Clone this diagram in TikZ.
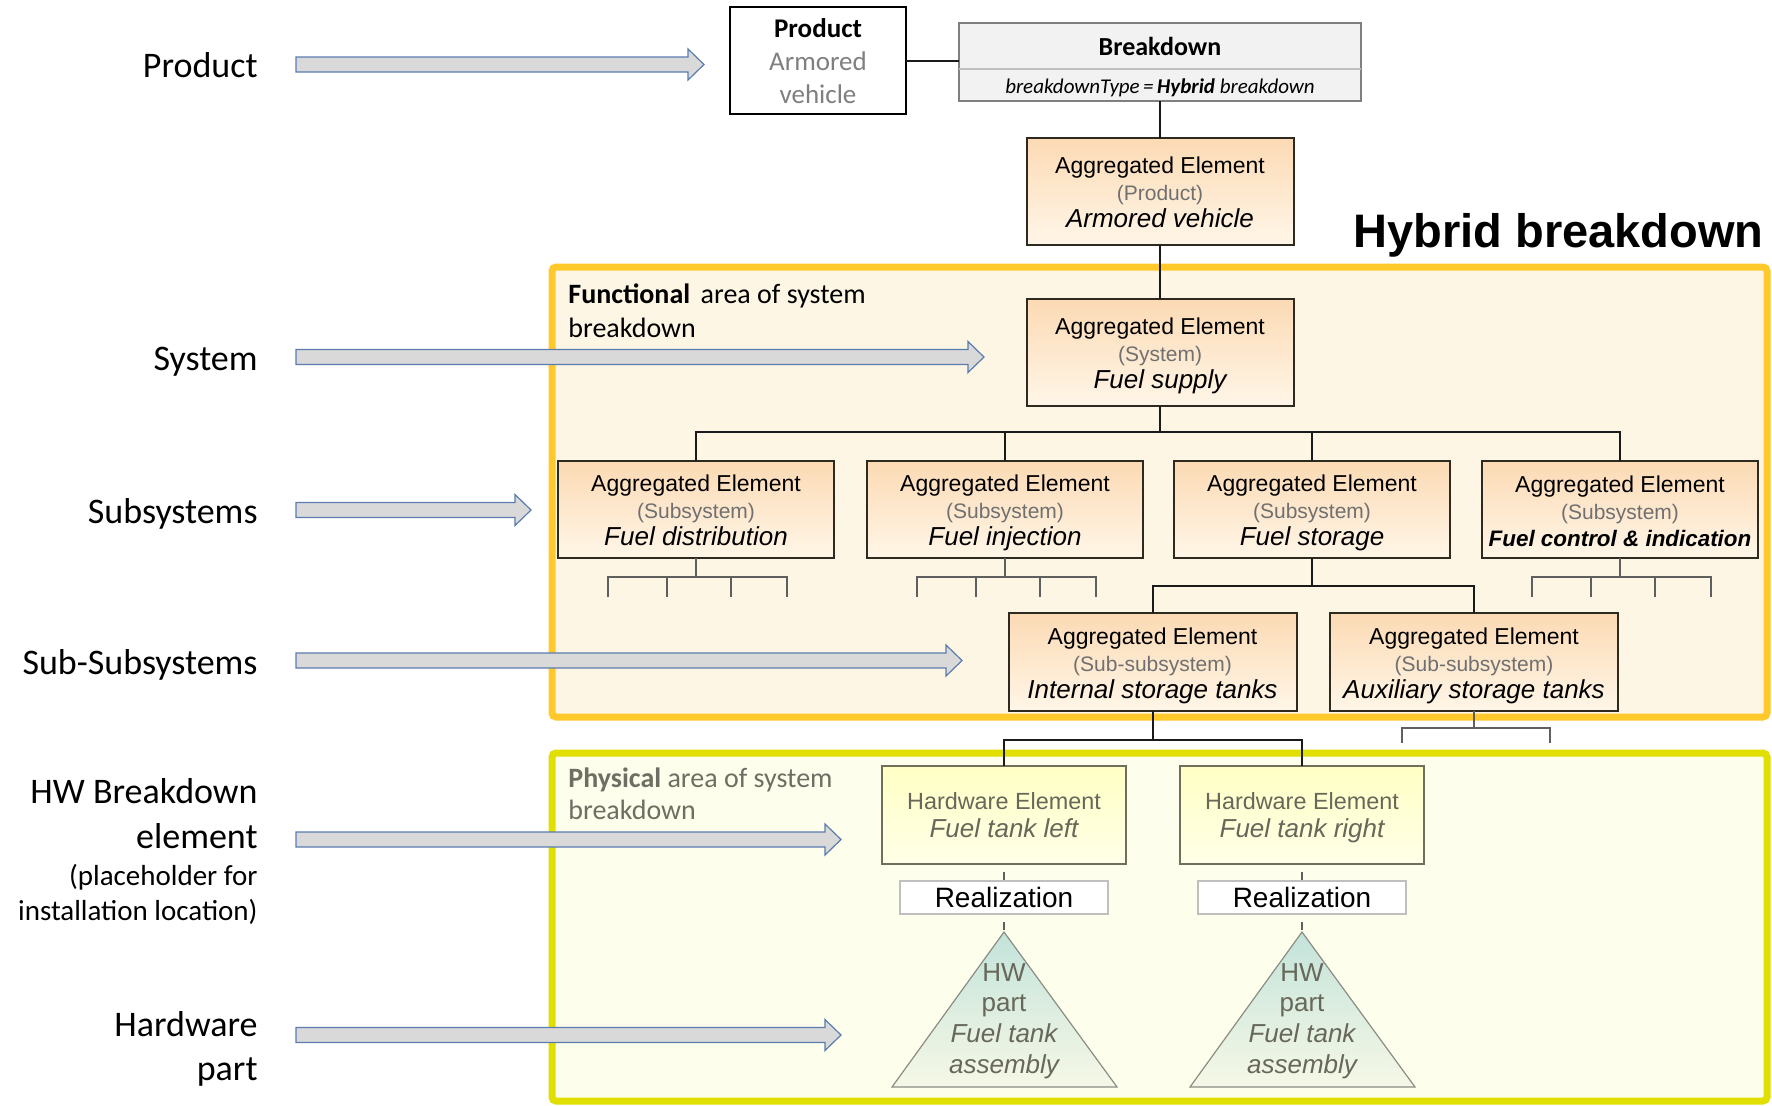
\documentclass[tikz,border=0pt]{standalone}
\usepackage{fontspec}
\setmainfont{Liberation Sans}
\newfontfamily\calib{Carlito}
\usetikzlibrary{calc}
\definecolor{arrfill}{HTML}{D9D9D9}
\definecolor{arrdraw}{HTML}{5B7CB0}
\definecolor{orframe}{HTML}{FFC92B}
\definecolor{orfill}{HTML}{FEF6E4}
\definecolor{yeframe}{HTML}{E1DF00}
\definecolor{yefill}{HTML}{FEFEEC}
\definecolor{aggtop}{HTML}{FCDAB4}
\definecolor{aggbot}{HTML}{FFF6E8}
\definecolor{aggdraw}{HTML}{2E2A20}
\definecolor{typegray}{HTML}{707070}
\definecolor{hwtop}{HTML}{FFFFC4}
\definecolor{hwbot}{HTML}{FFFFE8}
\definecolor{hwdraw}{HTML}{6F6F5C}
\definecolor{hwtext}{HTML}{67675A}
\definecolor{tritop}{HTML}{C3E3DA}
\definecolor{tribot}{HTML}{F6F8E6}
\definecolor{tridraw}{HTML}{8C8C84}
\definecolor{realdraw}{HTML}{BFBFBF}
\definecolor{prodgray}{HTML}{7F7F7F}
\definecolor{bdfill}{HTML}{F2F2F2}
\definecolor{bddraw}{HTML}{7F7F7F}
\definecolor{stubc}{HTML}{5F5F5F}
\definecolor{physgray}{HTML}{6E6E62}
\definecolor{conncol}{HTML}{1A1A1A}

\newcommand\aggtext[2]{\rule{0pt}{12pt}Aggregated Element\\{\fontsize{10.5}{13.5}\selectfont\color{typegray}#1}\\{\fontsize{13}{13.5}\selectfont\itshape #2\vphantom{gy}}}
\newcommand\blockarrow[2]{%
  \draw[barrow] (296,#1-7.5) -- (#2-16,#1-7.5) -- (#2-16,#1-15.5) -- (#2,#1) -- (#2-16,#1+15.5) -- (#2-16,#1+7.5) -- (296,#1+7.5) -- cycle;}
\newcommand\substubs[1]{%
  \draw[stub] (#1.south) -- ++(0,19);
  \draw[stub] ([shift={(-88,39)}]#1.south) |- ([shift={(91,19)}]#1.south) -- ++(0,20);
  \draw[stub] ([shift={(-29,19)}]#1.south) -- ++(0,20);
  \draw[stub] ([shift={(35,19)}]#1.south) -- ++(0,20);}

\begin{document}
\begin{tikzpicture}[x=0.5pt,y=-0.5pt,
  agg/.style={draw=aggdraw, line width=1pt, top color=aggtop, bottom color=aggbot,
    minimum width=#1, minimum height=48.5pt, inner sep=0pt, outer sep=0pt, align=center,
    font=\fontsize{11.5}{13.5}\selectfont},
  agg/.default=138pt,
  hwbox/.style={draw=hwdraw, line width=0.8pt, top color=hwtop, bottom color=hwbot,
    minimum width=122pt, minimum height=49pt, inner sep=0pt, outer sep=0pt, align=center,
    text=hwtext, font=\fontsize{11.7}{14}\selectfont},
  realbox/.style={draw=realdraw, line width=0.6pt, fill=white, minimum width=104pt,
    minimum height=16.5pt, inner sep=0pt, outer sep=0pt, font=\fontsize{14}{16}\selectfont},
  trilbl/.style={align=center, text=hwtext, inner sep=0pt, font=\fontsize{13}{15.3}\selectfont},
  tri/.style={draw=tridraw, line width=0.6pt, top color=tritop, bottom color=tribot},
  conn/.style={draw=conncol, line width=1pt},
  stub/.style={draw=stubc, line width=0.75pt},
  dashline/.style={draw=stubc, line width=0.8pt, dash pattern=on 4pt off 4pt, dash phase=4pt},
  barrow/.style={fill=arrfill, draw=arrdraw, line width=0.6pt},
  lbl/.style={anchor=base east, inner sep=0pt, font=\calib\fontsize{18}{22}\selectfont},
  lblsmall/.style={anchor=base east, inner sep=0pt, font=\calib\fontsize{14.5}{17}\selectfont},
  areatext/.style={anchor=base west, inner sep=0pt, font=\calib\fontsize{14}{17}\selectfont}
]
\useasboundingbox (0,0) rectangle (1772,1105);
\fill[white] (0,0) rectangle (1772,1105);

% area frames
\draw[draw=orframe, fill=orfill, line width=3.5pt, rounded corners=2pt] (552,267) rectangle (1767,717);
\draw[draw=yeframe, fill=yefill, line width=3.5pt, rounded corners=2pt] (552,753) rectangle (1767,1101);

\node[areatext] (funcA) at (568,303) {\textbf{Functional}\hspace{0.15em} area of system};
\node[areatext] (funcB) at (568,337) {breakdown};
\node[areatext, text=physgray] (physA) at (568,787) {\textbf{Physical} area of system};
\node[areatext, text=physgray] (physB) at (568,819) {breakdown};

\node[anchor=base east, inner sep=0pt, font=\fontsize{23.5}{28}\selectfont\bfseries] (hybrid) at (1764,247) {Hybrid breakdown};

% left labels
\node[lbl] (lProduct) at (258,77) {Product};
\node[lbl] (lSystem) at (258,370) {System};
\node[lbl] (lSub) at (258,523) {Subsystems};
\node[lbl] (lSubSub) at (258,674) {Sub-Subsystems};
\node[lbl] (lHWa) at (258,803) {HW Breakdown};
\node[lbl] (lHWb) at (258,848) {element};
\node[lblsmall] (lHWc) at (258,885) {(placeholder for};
\node[lblsmall] (lHWd) at (258,920) {installation location)};
\node[lbl] (lHPa) at (258,1036) {Hardware};
\node[lbl] (lHPb) at (258,1080) {part};

% block arrows
\blockarrow{64.5}{704}
\blockarrow{357}{984}
\blockarrow{510}{531}
\blockarrow{660.5}{962}
\blockarrow{839.5}{841}
\blockarrow{1035}{841}

% top nodes
\node[draw=black, line width=1pt, fill=white, minimum width=88pt, minimum height=53.5pt,
  inner sep=0pt, outer sep=0pt, align=center, font=\calib\fontsize{13.5}{16.5}\selectfont]
  (prod) at (818,60.5) {\rule{0pt}{12.5pt}\textbf{Product}\\{\color{prodgray}Armored}\\{\color{prodgray}vehicle\vphantom{y}}};
\node[draw=bddraw, line width=0.75pt, fill=bdfill, minimum width=201pt, minimum height=39pt,
  inner sep=0pt, outer sep=0pt] (bd) at (1160,62) {};
\draw[draw=realdraw, line width=1pt] (bd.west |- 0,69) -- (bd.east |- 0,69);
\node[anchor=base, inner sep=0pt, font=\calib\bfseries\fontsize{13}{15}\selectfont] (bdtitle) at (1160,55) {Breakdown};
\node[anchor=base, inner sep=0pt, font=\calib\itshape\fontsize{10.5}{12}\selectfont] (bdtype) at (1160,93) {breakdownType\,=\,\textbf{Hybrid} breakdown};

\node[agg=133.5pt, minimum height=53.5pt] (agp) at (1160,191) {\aggtext{(Product)}{Armored vehicle}};
\node[agg=133.5pt, minimum height=53.5pt] (sys) at (1160,352.5) {\aggtext{(System)}{Fuel supply}};

\node[agg] (sub1) at (696,509.5) {\aggtext{(Subsystem)}{Fuel distribution}};
\node[agg] (sub2) at (1005,509.5) {\aggtext{(Subsystem)}{Fuel injection}};
\node[agg] (sub3) at (1312,509.5) {\aggtext{(Subsystem)}{Fuel storage}};
\node[agg] (sub4) at (1620,509.5) {\aggtext{(Subsystem)}{\fontsize{11.2}{13.5}\selectfont\bfseries Fuel control \& indication}};

\node[agg=144pt, minimum height=49pt] (intern) at (1152.5,662) {\aggtext{(Sub-subsystem)}{Internal storage tanks}};
\node[agg=144pt, minimum height=49pt] (aux) at (1474,662) {\aggtext{(Sub-subsystem)}{Auxiliary storage tanks}};

\node[hwbox] (hw1) at (1004,815) {\rule{0pt}{11pt}Hardware Element\\{\fontsize{13}{14}\selectfont\itshape Fuel tank left\vphantom{gy}}};
\node[hwbox] (hw2) at (1302,815) {\rule{0pt}{11pt}Hardware Element\\{\fontsize{13}{14}\selectfont\itshape Fuel tank right\vphantom{gy}}};

\node[realbox] (real1) at (1004,897.5) {Realization};
\node[realbox] (real2) at (1302,897.5) {Realization};

\coordinate (apex1) at (1004,932);
\coordinate (apex2) at (1302,932);
\shade[tri] (apex1) -- (892,1087) -- (1117,1087) -- cycle;
\shade[tri] (apex2) -- (1190,1087) -- (1415,1087) -- cycle;
\node[trilbl] (tri1) at (1004,1021) {HW\\part\\{\itshape Fuel tank}\\{\itshape assembly}};
\node[trilbl] (tri2) at (1302,1021) {HW\\part\\{\itshape Fuel tank}\\{\itshape assembly}};

% connectors
\draw[conn] (prod.east) -- (prod.east -| bd.west);
\draw[conn] (bd.south) -- (agp.north);
\draw[conn] (agp.south) -- (sys.north);
\coordinate (busS) at (1160,432);
\draw[conn] (sys.south) -- (busS);
\draw[conn] (sub1.north) |- (busS) -| (sub4.north);
\draw[conn] (sub2.north) -- (sub2.north |- busS);
\draw[conn] (sub3.north) -- (sub3.north |- busS);
\coordinate (busF) at (1312,586);
\draw[conn] (sub3.south) -- (busF);
\draw[conn] (intern.north) |- (busF) -| (aux.north);
\coordinate (busI) at (1152.5,740);
\draw[conn] (intern.south) -- (busI);
\draw[conn] (hw1.north) |- (busI) -| (hw2.north);

\substubs{sub1}
\substubs{sub2}
\substubs{sub4}
\draw[stub] (aux.south) -- ++(0,17);
\draw[stub] ([shift={(-72,32)}]aux.south) |- ([shift={(76,17)}]aux.south) -- ++(0,15);

\draw[dashline] (hw1.south) -- (real1.north);
\draw[dashline] (hw2.south) -- (real2.north);
\draw[dashline] (real1.south) -- (apex1);
\draw[dashline] (real2.south) -- (apex2);
\end{tikzpicture}
\end{document}
